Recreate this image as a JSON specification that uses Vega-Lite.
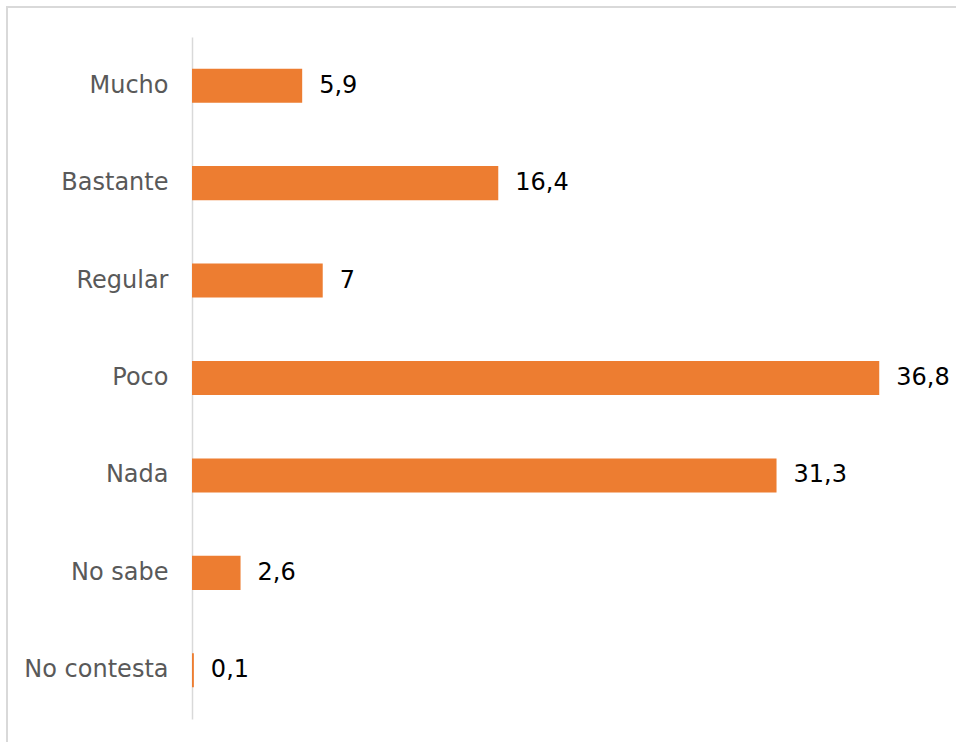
{
  "$schema": "https://vega.github.io/schema/vega-lite/v6.json",
  "width": 952,
  "height": 738,
  "padding": {"left": 7, "top": 7, "right": -3, "bottom": -3},
  "autosize": {"type": "none"},
  "background": "white",
  "config": {
    "view": {"stroke": "#D9D9D9", "strokeWidth": 2},
    "locale": {"number": {"decimal": ",", "thousands": ".", "grouping": [3], "currency": ["", " €"]}}
  },
  "data": {
    "values": [
      {"categoria": "Mucho", "valor": 5.9},
      {"categoria": "Bastante", "valor": 16.4},
      {"categoria": "Regular", "valor": 7},
      {"categoria": "Poco", "valor": 36.8},
      {"categoria": "Nada", "valor": 31.3},
      {"categoria": "No sabe", "valor": 2.6},
      {"categoria": "No contesta", "valor": 0.1}
    ]
  },
  "encoding": {
    "y": {
      "field": "categoria",
      "type": "nominal",
      "sort": null,
      "scale": {"range": [30, 712], "paddingInner": 0.65, "paddingOuter": 0.325},
      "axis": {
        "title": null,
        "offset": -185,
        "ticks": false,
        "labelPadding": 24,
        "domainColor": "#D9D9D9",
        "domainWidth": 1.5,
        "labelFont": "DejaVu Sans",
        "labelFontSize": 24,
        "labelColor": "#595959",
        "labelLimit": 0
      }
    },
    "x": {
      "field": "valor",
      "type": "quantitative",
      "scale": {"domain": [0, 40], "range": [185, 932]},
      "axis": null
    }
  },
  "layer": [
    {"mark": {"type": "bar", "color": "#ED7D31"}},
    {
      "mark": {"type": "text", "align": "left", "baseline": "middle", "dx": 17, "font": "DejaVu Sans", "fontSize": 24, "color": "#000000"},
      "encoding": {"text": {"field": "valor", "type": "quantitative", "format": ".1~f"}}
    }
  ]
}
